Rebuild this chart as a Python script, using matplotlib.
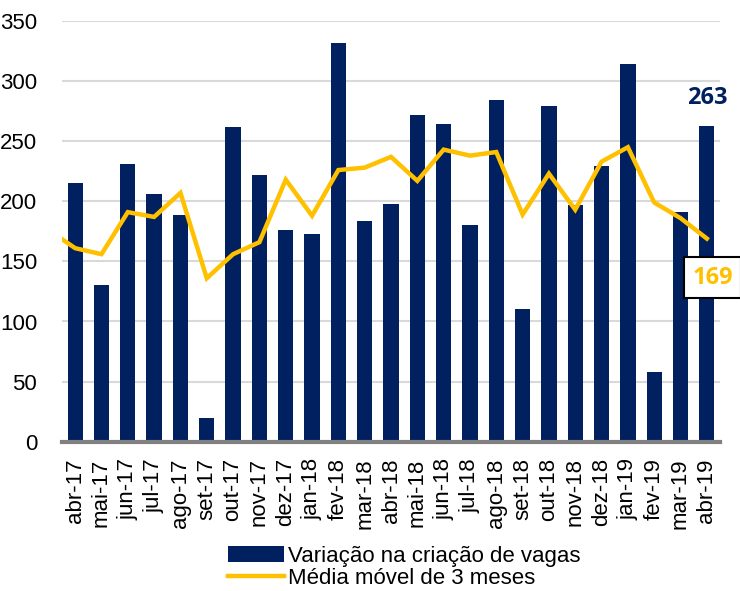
import matplotlib
matplotlib.use("Agg")
import matplotlib.pyplot as plt
import numpy as np

categories = ["abr-17", "mai-17", "jun-17", "jul-17", "ago-17", "set-17", "out-17", "nov-17",
              "dez-17", "jan-18", "fev-18", "mar-18", "abr-18", "mai-18", "jun-18", "jul-18",
              "ago-18", "set-18", "out-18", "nov-18", "dez-18", "jan-19", "fev-19", "mar-19", "abr-19"]
vagas = [215, 130, 231, 206, 189, 20, 262, 222, 176, 173, 332, 184, 198, 272, 264, 180,
         284, 110, 279, 197, 229, 314, 58, 191, 263]
# moving average; first value belongs to the month before the first bar (mar-17)
media_prev = 176
media = [161, 156, 191, 187, 207, 136, 156, 166, 218, 188, 226, 228, 237, 217, 243, 238,
         241, 189, 223, 193, 233, 245, 199, 186, 169]

navy = "#002060"
gold = "#FFC000"

plt.rcParams['font.family'] = ['Liberation Sans', 'DejaVu Sans']

fig = plt.figure(figsize=(7.40, 5.91), dpi=100)
ax = fig.add_axes([62/740, 1 - 441.7/591, (720 - 62)/740, (441.7 - 21)/591])

x = np.arange(len(categories))
bars = ax.bar(x, vagas, width=0.58, color=navy, zorder=2, label="Variação na criação de vagas")
xl = np.concatenate([[-1], x])
yl = [media_prev] + media
line, = ax.plot(xl, yl, color=gold, lw=3.2, zorder=3, solid_joinstyle='miter',
                label="Média móvel de 3 meses")

ax.set_xlim(-0.5, len(categories) - 0.5)
ax.set_ylim(0, 350)
ax.set_yticks(np.arange(0, 351, 50))
ax.yaxis.grid(True, color="#d9d9d9", lw=1.5, zorder=0)
ax.set_axisbelow(True)
for s in ["top", "right", "left"]:
    ax.spines[s].set_visible(False)
ax.spines["bottom"].set_color("#808080")
ax.spines["bottom"].set_linewidth(3)
ax.spines["bottom"].set_zorder(4)
ax.tick_params(axis='both', length=0, labelsize=16, colors="#000000")
ax.tick_params(axis='y', pad=18)
ax.tick_params(axis='x', pad=12)
ax.set_xticks(x)
ax.set_xticklabels(categories, rotation=90, va='top')

# data labels
ax.text(x[-1], vagas[-1] + 23, str(vagas[-1]), color=navy, fontsize=17, fontweight='bold',
        family=['Open Sans', 'DejaVu Sans'], ha='center', va='center', zorder=5)
ax.annotate(str(media[-1]), xy=(x[-1], media[-1]), xytext=(6, -39), textcoords='offset pixels',
            color=gold, fontsize=17, fontweight='bold', family=['Open Sans', 'DejaVu Sans'],
            ha='center', va='center', zorder=6, annotation_clip=False,
            bbox=dict(boxstyle='square,pad=0.35', fc='white', ec='black', lw=1.5))

fig.legend(handles=[bars, line], loc='upper left', bbox_to_anchor=(228/740, 1 - 546/591),
           frameon=False, fontsize=16, handlelength=2.5, handletextpad=0.2, labelspacing=0.05,
           borderpad=0, borderaxespad=0)

fig.savefig("out.png", dpi=100)
